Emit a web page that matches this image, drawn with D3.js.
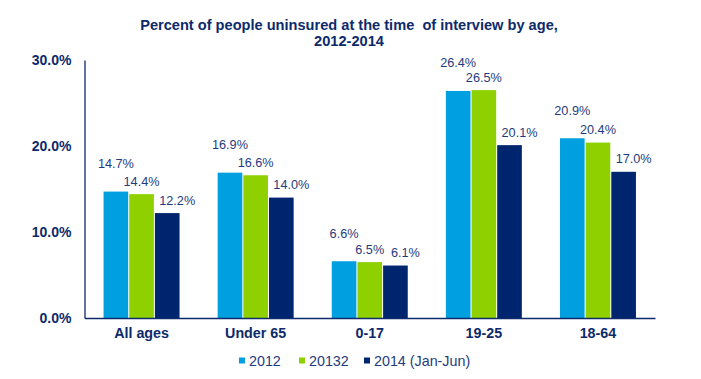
<!DOCTYPE html>
<html><head><meta charset="utf-8">
<script src="https://cdn.jsdelivr.net/npm/d3@7"></script>
<style>
html,body{margin:0;padding:0;background:#fff;}
svg{display:block;font-family:"Liberation Sans",Arial,sans-serif;}
</style></head>
<body>
<svg id="c" width="701" height="379"></svg>
<script>
const categories = ["All ages", "Under 65", "0-17", "19-25", "18-64"];
const seriesNames = ["2012", "20132", "2014 (Jan-Jun)"];
const values2012 = [14.7, 16.9, 6.6, 26.4, 20.9];
const values2013 = [14.4, 16.6, 6.5, 26.5, 20.4];
const values2014 = [12.2, 14.0, 6.1, 20.1, 17.0];
const yTicks = [0, 10, 20, 30];
const titleLines = ["Percent of people uninsured at the time  of interview by age,", "2012-2014"];

const colors = ["#009FDF", "#8FD100", "#00256F"];
const navy = "#0D2A6B";
const series = [values2012, values2013, values2014];

const svg = d3.select("#c");
const mLeft = 84.5, mRight = 655, mTop = 60, mBottom = 318;

const x0 = d3.scaleBand().domain(categories).range([mLeft, mRight]).paddingInner(0.334).paddingOuter(0.167);
const x1 = d3.scaleBand().domain(d3.range(3)).range([0, x0.bandwidth()]).paddingInner(0.04);
const y = d3.scaleLinear().domain([0, 30]).range([mBottom, mTop]);

// title
svg.append("text").attr("text-anchor", "middle")
  .attr("font-size", 14.6).attr("font-weight", "bold").attr("fill", navy)
  .style("white-space", "pre")
  .selectAll("tspan").data(titleLines).join("tspan")
  .attr("x", 349).attr("y", (d, i) => 30 + i * 16).text(d => d);

// bars
const g = svg.append("g");
categories.forEach((c, ci) => {
  series.forEach((s, si) => {
    const bx = x0(c) + x1(si);
    g.append("rect").attr("x", bx).attr("y", y(s[ci]))
      .attr("width", x1.bandwidth()).attr("height", y(0) - y(s[ci]))
      .attr("fill", colors[si]);
  });
});

// labels
const labelDy = [-28, -13, -13];
const labelDx = [0, 0, 10];
categories.forEach((c, ci) => {
  series.forEach((s, si) => {
    const cx = x0(c) + x1(si) + x1.bandwidth() / 2 + labelDx[si];
    svg.append("text").attr("x", cx).attr("y", y(s[ci]) + labelDy[si] + 4.5)
      .attr("text-anchor", "middle").attr("font-size", 12.7).attr("fill", "#1F3B7D")
      .text(s[ci].toFixed(1) + "%");
  });
});

// y axis
const yAxis = d3.axisLeft(y).tickValues(yTicks).tickSize(0).tickPadding(13)
  .tickFormat(d => d.toFixed(1) + "%");
const ya = svg.append("g").attr("transform", `translate(${mLeft},0)`).call(yAxis);
ya.select(".domain").attr("stroke", navy).attr("stroke-width", 1.3);
ya.selectAll("text").attr("font-size", 14).attr("font-weight", "bold").attr("fill", navy)
  .attr("font-family", "Liberation Sans, Arial, sans-serif");

// x axis
const xAxis = d3.axisBottom(x0).tickSize(0).tickPadding(10);
const xa = svg.append("g").attr("transform", `translate(0,${mBottom})`).call(xAxis);
xa.select(".domain").attr("stroke", navy).attr("stroke-width", 1.3);
xa.selectAll("text").attr("font-size", 14.3).attr("font-weight", "bold").attr("fill", navy)
  .attr("font-family", "Liberation Sans, Arial, sans-serif");

// legend
const legendX = [239, 299, 364];
const lg = svg.append("g");
seriesNames.forEach((n, i) => {
  lg.append("rect").attr("x", legendX[i]).attr("y", 357.5).attr("width", 6).attr("height", 6).attr("fill", colors[i]);
  lg.append("text").attr("x", legendX[i] + 10).attr("y", 366).attr("font-size", 14.3).attr("fill", "#1F3B7D").text(n);
});
</script>
</body></html>
